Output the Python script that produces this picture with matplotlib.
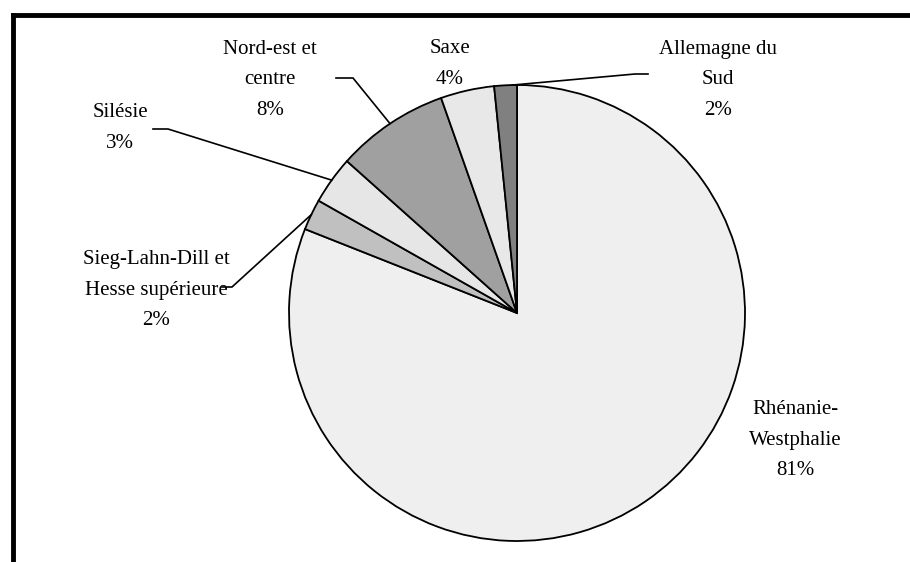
import numpy as np
import matplotlib.pyplot as plt

# regions, clockwise from 12 o'clock
regions = ["Rhénanie-\nWestphalie", "Sieg-Lahn-Dill et\nHesse supérieure", "Silésie",
           "Nord-est et\ncentre", "Saxe", "Allemagne du\nSud"]
shares = [81.0, 2.2, 3.4, 8.0, 3.8, 1.6]
pct_labels = ["81%", "2%", "3%", "8%", "4%", "2%"]
colors = ["#efefef", "#c0c0c0", "#e6e6e6", "#a0a0a0", "#e8e8e8", "#808080"]

W, H = 910, 562
plt.rcParams["font.family"] = ["Liberation Serif", "DejaVu Serif"]

fig = plt.figure(figsize=(W / 100, H / 100), dpi=100)
ax = fig.add_axes([0, 0, 1, 1])

cx, cy, r = 517, H - 313, 228
wedges, _ = ax.pie(shares, colors=colors, startangle=90, counterclock=False,
                   center=(cx, cy), radius=r, frame=True,
                   wedgeprops=dict(edgecolor="black", linewidth=1.3))
ax.set_xlim(0, W)
ax.set_ylim(0, H)
ax.set_aspect("equal")
ax.axis("off")

# label text position (pixel, top-left origin) and leader elbow
label_pos = [(795, 440), (156, 290), (120, 128), (270, 80), (450, 64), (718, 80)]
elbows = [None, ((222, 287), (232, 287)), ((153, 129), (168, 129)),
          ((336, 78), (353, 78)), None, ((648, 74), (635, 74))]
# where the leader meets the rim, as a fraction across the wedge
rim_frac = [0.5, 0.5, 0.5, 0.5, 0.5, 0.2]

for w, txt, pct, (lx, ly), elb, f in zip(wedges, regions, pct_labels, label_pos, elbows, rim_frac):
    ax.text(lx, H - ly, txt + "\n" + pct, ha="center", va="center",
            fontsize=15, linespacing=1.85, color="black")
    if elb is None:
        continue
    ang = np.deg2rad(w.theta1 + f * (w.theta2 - w.theta1))
    px, py = cx + r * np.cos(ang), cy + r * np.sin(ang)
    (x0, y0), (x1, y1) = elb
    ax.plot([x0, x1, px], [H - y0, H - y1, py], color="black", lw=1.2,
            solid_joinstyle="miter")

# partial frame (top and left)
ax.plot([13, W], [H - 15, H - 15], color="black", lw=3.5, solid_capstyle="projecting")
ax.plot([13, 13], [H - 15, 0], color="black", lw=3.5, solid_capstyle="projecting")

fig.savefig("out.png", dpi=100)
